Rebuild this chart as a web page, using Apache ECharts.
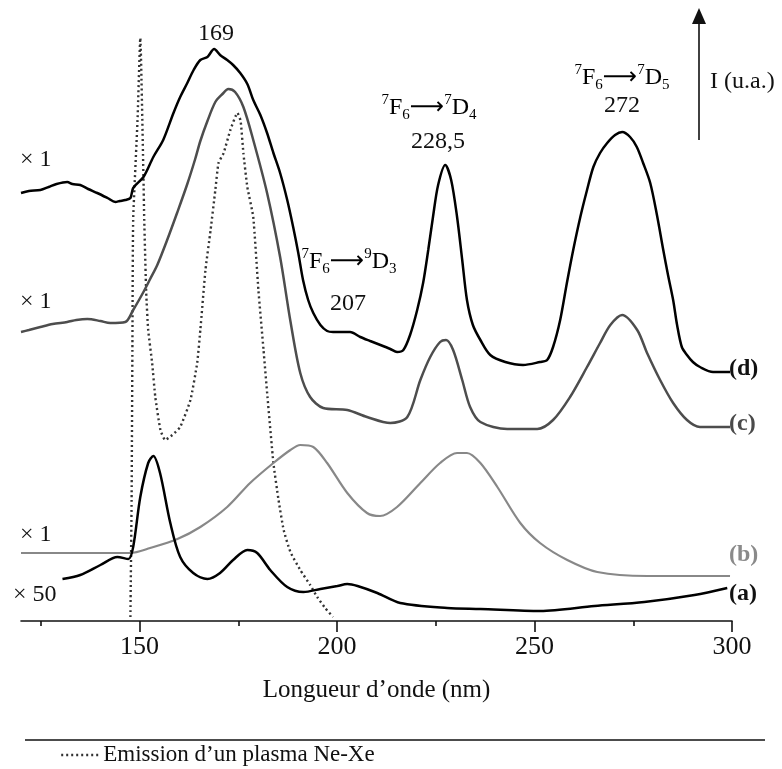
<!DOCTYPE html>
<html><head><meta charset="utf-8">
<script src="https://cdn.jsdelivr.net/npm/echarts@6/dist/echarts.min.js"></script>
<style>html,body{margin:0;padding:0;background:#fff}#c{width:782px;height:769px}</style>
</head><body><div id="c"></div>
<script>
// wavelength (nm), relative intensity (u.a., curves stacked with offsets)
const curveD = [[120,428],[122,430],[124.9,431],[127,434],[129,437],[131.7,439],[133,437],[135,436],[137,432],[139.3,428],[141.9,423],[143.9,419],[145,420],[146.4,421],[147.7,423],[148.4,433],[151,444],[153.5,464],[156,481],[158.6,508],[160.3,524],[162.1,538],[163.7,551],[165.4,561],[167.2,564],[168.9,572],[170.4,566],[172.2,561],[173.7,556],[175.5,548],[177.3,537],[178.8,521],[180.6,506],[182.3,488],[183.9,468],[185.6,448],[187.4,421],[188.9,394],[190.2,368],[191.4,341],[192.7,321],[194,308],[195.8,296],[197.5,290],[199,289],[200.8,289],[203.3,289],[205.9,284],[208.4,280],[211,276],[213.5,272],[215.2,269],[216.8,271],[218.5,286],[220.3,311],[221.8,338],[223.1,371],[224.3,404],[225.6,436],[227.4,456],[228.9,441],[230.4,404],[231.7,361],[232.9,321],[234.4,296],[236.3,281],[238.8,266],[242.6,259],[247.1,256],[251.4,259],[253.2,261],[254.7,274],[256.5,301],[258.2,338],[259.8,371],[261.6,404],[263.3,431],[264.9,454],[266.6,468],[268.4,478],[270.4,486],[272.2,489],[274.2,484],[275.9,474],[277.5,458],[279.3,438],[281,406],[282.6,371],[283.8,346],[285.1,321],[286.1,296],[287.3,274],[288.6,266],[290.1,259],[291.9,254],[295.2,249],[299.5,249]];
const curveC = [[120,289],[122,291],[124.9,294],[128,297],[131.7,299],[134,301],[136.8,302],[140.1,300],[142.6,298],[146.4,299],[148.4,311],[151,329],[152.7,342],[154.5,356],[157,381],[159.6,409],[162.1,437],[164.1,462],[165.4,480],[167.2,500],[169.2,519],[171,527],[172.5,532],[174.2,529],[176.3,514],[178.8,481],[182.3,428],[185.6,364],[188.2,300],[190.7,248],[193.2,224],[196.5,213],[202.6,211],[207.6,204],[213.5,198],[217.8,204],[221.1,241],[223.6,264],[226.1,279],[227.6,281],[229.4,271],[231.7,241],[233.7,214],[236.3,199],[243.1,192],[250.7,192],[254.7,201],[259,224],[263.3,254],[266.6,278],[269.2,296],[272.2,306],[276,291],[278.5,268],[281.8,241],[285.1,218],[288.6,201],[291.9,194],[299.5,194]];
const curveB = [[120,68],[130,68],[140.1,68],[147.7,68],[152.7,73],[159.6,82],[165.4,94],[172.2,114],[178,138],[183.9,158],[188.2,171],[190.7,176],[194,174],[197.5,158],[202.6,128],[207.6,108],[210.9,105],[215.2,114],[221.1,138],[226.1,158],[230.4,168],[232.9,168],[236.3,158],[240.6,134],[246.4,98],[251.4,78],[258.3,61],[265.9,49],[278.5,45],[299.5,45]];
const curveA = [[130.5,42],[135,46],[140.1,56],[144.4,64],[147.2,62],[148.4,74],[150.2,124],[152.2,158],[153.5,165],[155.2,148],[157.8,98],[160.3,64],[163.6,48],[167.2,42],[170.4,48],[173.7,61],[177.3,71],[179.8,68],[183.1,51],[187.4,34],[191.5,29],[195.8,32],[200.1,35],[202.6,37],[205.2,35],[210.2,28],[216,18],[227.9,13],[236.3,12],[251.5,10],[265.2,15],[277.8,19],[290.5,26],[298.8,33]];
const plasma = [[147.7,4],[148,121],[148.2,271],[148.4,401],[149.5,501],[150.2,583],[151,444],[151.2,401],[151.7,328],[152.2,291],[153.2,258],[154,224],[155.3,191],[156.5,181],[158.3,186],[160.3,194],[162.9,221],[164.6,258],[165.4,291],[166.7,351],[168,391],[169.2,431],[170,458],[171.3,468],[173,491],[174.8,508],[175.6,500],[176.3,468],[177.3,434],[178.8,404],[180.1,331],[181.4,271],[182.4,224],[183.9,158],[185.2,121],[186.5,91],[188.2,69],[190.7,51],[193.2,36],[195,24],[197,13],[199,4]];
const majorTicks = [150, 200, 250, 300];
const minorTicks = [125, 175, 225, 275];
const legendName = 'Emission d\u2019un plasma Ne-Xe';

const FONT = '"Liberation Serif", "DejaVu Serif", serif';
const chart = echarts.init(document.getElementById('c'), null, {renderer: 'canvas'});

function txt(x, y, text, opt) {
  return Object.assign({type: 'text', x: x, y: y, style: Object.assign({
    text: text, font: '24px ' + FONT, fill: '#111', align: 'center', verticalAlign: 'middle'
  }, opt || {})});
}
const richT = {
  n: {fontSize: 24, fontFamily: FONT, color: '#111', lineHeight: 30},
  arr: {fontSize: 24, fontFamily: '"DejaVu Sans", sans-serif', color: '#111', lineHeight: 30},
  sup: {fontSize: 15, fontFamily: FONT, color: '#111', lineHeight: 13, verticalAlign: 'top'},
  sub: {fontSize: 15, fontFamily: FONT, color: '#111', lineHeight: 13, verticalAlign: 'bottom'}
};
function trans(x, y, a, b) {
  return {type: 'text', x: x, y: y, style: {
    text: '{sup|7}{n|F}{sub|6}{arr|\u27F6}{sup|' + a + '}{n|D}{sub|' + b + '}',
    rich: richT, align: 'center', verticalAlign: 'middle'
  }};
}

const lineS = (name, data, color, width, z) => ({
  type: 'line', name: name, data: data, showSymbol: false, symbol: 'none', smooth: 0.3,
  lineStyle: {color: color, width: width}, itemStyle: {color: color}, z: z, animation: false, silent: true
});

const plasmaSeries = lineS(legendName, plasma, '#333', 2.4, 1);
plasmaSeries.lineStyle.type = [2, 3];
plasmaSeries.smooth = 0.15;

chart.setOption({
  animation: false,
  grid: {left: 21, right: 50, top: 21, bottom: 148, containLabel: false},
  xAxis: [{
    type: 'value', min: 120, max: 300, position: 'bottom',
    axisLine: {show: true, lineStyle: {color: '#111', width: 1.6}},
    axisTick: {show: true, customValues: majorTicks, length: 11, lineStyle: {color: '#111', width: 1.6}},
    axisLabel: {show: true, customValues: majorTicks, fontSize: 26, fontFamily: FONT, color: '#111', margin: 13},
    splitLine: {show: false},
    name: 'Longueur d\u2019onde (nm)', nameLocation: 'middle', nameGap: 57,
    nameTextStyle: {fontSize: 25, fontFamily: FONT, color: '#111'}
  }, {
    type: 'value', min: 120, max: 300, position: 'bottom',
    axisLine: {show: false},
    axisTick: {show: true, customValues: minorTicks, length: 5, lineStyle: {color: '#111', width: 1.6}},
    axisLabel: {show: false}, splitLine: {show: false}
  }],
  yAxis: {type: 'value', min: 0, max: 600, show: false, splitLine: {show: false}},
  legend: {
    show: true, left: 55, top: 743, padding: [0, 5, 0, 5], itemWidth: 40, itemHeight: 12, itemGap: 4,
    data: [legendName], selectedMode: false,
    itemStyle: {opacity: 0},
    lineStyle: {width: 2.4, type: [2, 3], color: '#333'},
    textStyle: {fontSize: 23, fontFamily: FONT, color: '#111', lineHeight: 24, padding: [0,0,0,-3]}
  },
  series: [
    plasmaSeries,
    lineS('b', curveB, '#888888', 2.2, 2),
    lineS('c', curveC, '#4d4d4d', 2.5, 3),
    lineS('a', curveA, '#000', 2.5, 4),
    lineS('d', curveD, '#000', 2.5, 5)
  ],
  graphic: [
    txt(216, 34, '169'),
    trans(349, 262, '9', '3'),
    txt(348, 304, '207'),
    trans(429, 108, '7', '4'),
    txt(438, 142, '228,5'),
    trans(622, 78, '7', '5'),
    txt(622, 106, '272'),
    txt(710, 82, 'I (u.a.)', {align: 'left'}),
    {type: 'line', shape: {x1: 699, y1: 140, x2: 699, y2: 20}, style: {stroke: '#111', lineWidth: 1.6}},
    {type: 'polygon', shape: {points: [[692, 24], [706, 24], [699, 8]]}, style: {fill: '#111'}},
    txt(20, 160, '\u00d7 1', {align: 'left'}),
    txt(20, 302, '\u00d7 1', {align: 'left'}),
    txt(20, 535, '\u00d7 1', {align: 'left'}),
    txt(13, 595, '\u00d7 50', {align: 'left'}),
    txt(729, 369, '(d)', {align: 'left', font: 'bold 24px ' + FONT, fill: '#111'}),
    txt(729, 424, '(c)', {align: 'left', font: 'bold 24px ' + FONT, fill: '#4a4a4a'}),
    txt(729, 555, '(b)', {align: 'left', font: 'bold 24px ' + FONT, fill: '#8a8a8a'}),
    txt(729, 594, '(a)', {align: 'left', font: 'bold 24px ' + FONT, fill: '#111'}),
    {type: 'line', shape: {x1: 25, y1: 740, x2: 765, y2: 740}, style: {stroke: '#111', lineWidth: 1.5}}
  ]
});
</script></body></html>
